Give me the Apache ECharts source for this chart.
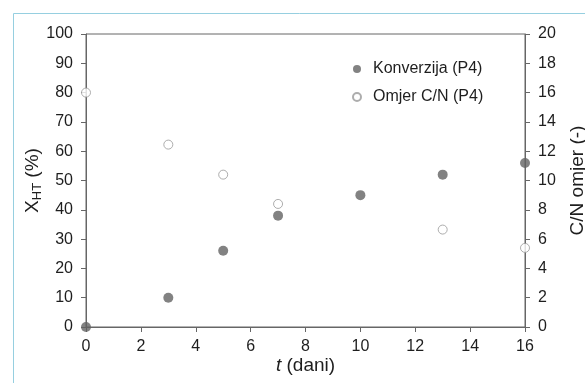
<!DOCTYPE html>
<html lang="hr">
<head>
    <meta charset="UTF-8">
    <title>Konverzija i omjer C/N</title>
    <script src="https://cdn.jsdelivr.net/npm/echarts@6/dist/echarts.min.js"></script>
    <style>
        html, body { margin: 0; padding: 0; background: #fff; }
    </style>
</head>
<body>
    <div id="chart" style="width: 585px; height: 383px;"></div>
    <script>
        // vrijeme (dani)
        var dani = [0, 3, 5, 7, 10, 13, 16]
        // konverzija X_HT (%) - lijeva os
        var konverzija = [0, 10, 26, 38, 45, 52, 56]
        // omjer C/N - desna os (nema mjerenja za dan 10)
        var daniCN = [0, 3, 5, 7, 13, 16]
        var omjerCN = [16, 12.45, 10.4, 8.4, 6.65, 5.4]

        var txt = '#1e1e1e'
        var axisCol = '#666'

        var myChart = echarts.init(document.getElementById('chart'))
        var option = {
            animation: false,
            textStyle: { fontFamily: 'Liberation Sans, Arial, sans-serif' },
            graphic: [{
                type: 'rect',
                shape: { x: 13.5, y: 13.5, width: 620, height: 420 },
                style: { fill: 'none', stroke: '#96cfe0', lineWidth: 1 },
                silent: true
            }],
            grid: {
                left: 86, right: 60, top: 34, bottom: 56,
                outerBoundsMode: 'none',
                show: true, borderColor: axisCol, borderWidth: 1
            },
            legend: {
                orient: 'vertical',
                left: 347, top: 56,
                itemWidth: 8, itemHeight: 8,
                itemGap: 12,
                textStyle: { fontSize: 16, color: txt, padding: [0, 0, 0, 7] },
                data: ['Konverzija (P4)', 'Omjer C/N (P4)']
            },
            xAxis: {
                type: 'value',
                min: 0, max: 16, interval: 2,
                name: '{i|t} (dani)',
                nameLocation: 'middle',
                nameGap: 29,
                nameMoveOverlap: false,
                nameTextStyle: {
                    fontSize: 19, color: txt,
                    rich: { i: { fontSize: 19, fontStyle: 'italic', color: txt } }
                },
                axisLine: { lineStyle: { color: axisCol } },
                axisTick: { length: 5, lineStyle: { color: axisCol } },
                axisLabel: { fontSize: 16, color: txt, margin: 12 },
                splitLine: { show: false }
            },
            yAxis: [{
                type: 'value',
                min: 0, max: 100, interval: 10,
                name: '{x|X}{s|HT}{x| (%)}',
                nameLocation: 'middle',
                nameGap: 42,
                nameRotate: 90,
                nameMoveOverlap: false,
                nameTextStyle: {
                    color: txt,
                    rich: {
                        x: { fontSize: 19, color: txt, lineHeight: 22 },
                        s: { fontSize: 13, color: txt, verticalAlign: 'bottom', lineHeight: 22, padding: [7, 0, 0, 0] }
                    }
                },
                axisLine: { show: true, lineStyle: { color: axisCol } },
                axisTick: { show: true, length: 5, lineStyle: { color: axisCol } },
                axisLabel: { fontSize: 16, color: txt, margin: 13 },
                splitLine: { show: false }
            }, {
                type: 'value',
                position: 'right',
                min: 0, max: 20, interval: 2,
                name: 'C/N omjer (-)',
                nameLocation: 'middle',
                nameGap: 43,
                nameRotate: 90,
                nameMoveOverlap: false,
                nameTextStyle: { fontSize: 19, color: txt },
                axisLine: { show: true, lineStyle: { color: axisCol } },
                axisTick: { show: true, length: 5, lineStyle: { color: axisCol } },
                axisLabel: { fontSize: 16, color: txt, margin: 13 },
                splitLine: { show: false }
            }],
            series: [{
                name: 'Konverzija (P4)',
                type: 'scatter',
                yAxisIndex: 0,
                symbol: 'circle',
                symbolSize: 10,
                clip: false,
                z: 3,
                itemStyle: { color: '#636363' },
                data: dani.map(function (d, i) { return [d, konverzija[i]] })
            }, {
                name: 'Omjer C/N (P4)',
                type: 'scatter',
                yAxisIndex: 1,
                symbol: 'circle',
                symbolSize: 9,
                clip: false,
                z: 4,
                itemStyle: { color: '#fff', borderColor: '#999', borderWidth: 1 },
                data: daniCN.map(function (d, i) { return [d, omjerCN[i]] })
            }]
        }
        myChart.setOption(option)
    </script>
</body>
</html>
